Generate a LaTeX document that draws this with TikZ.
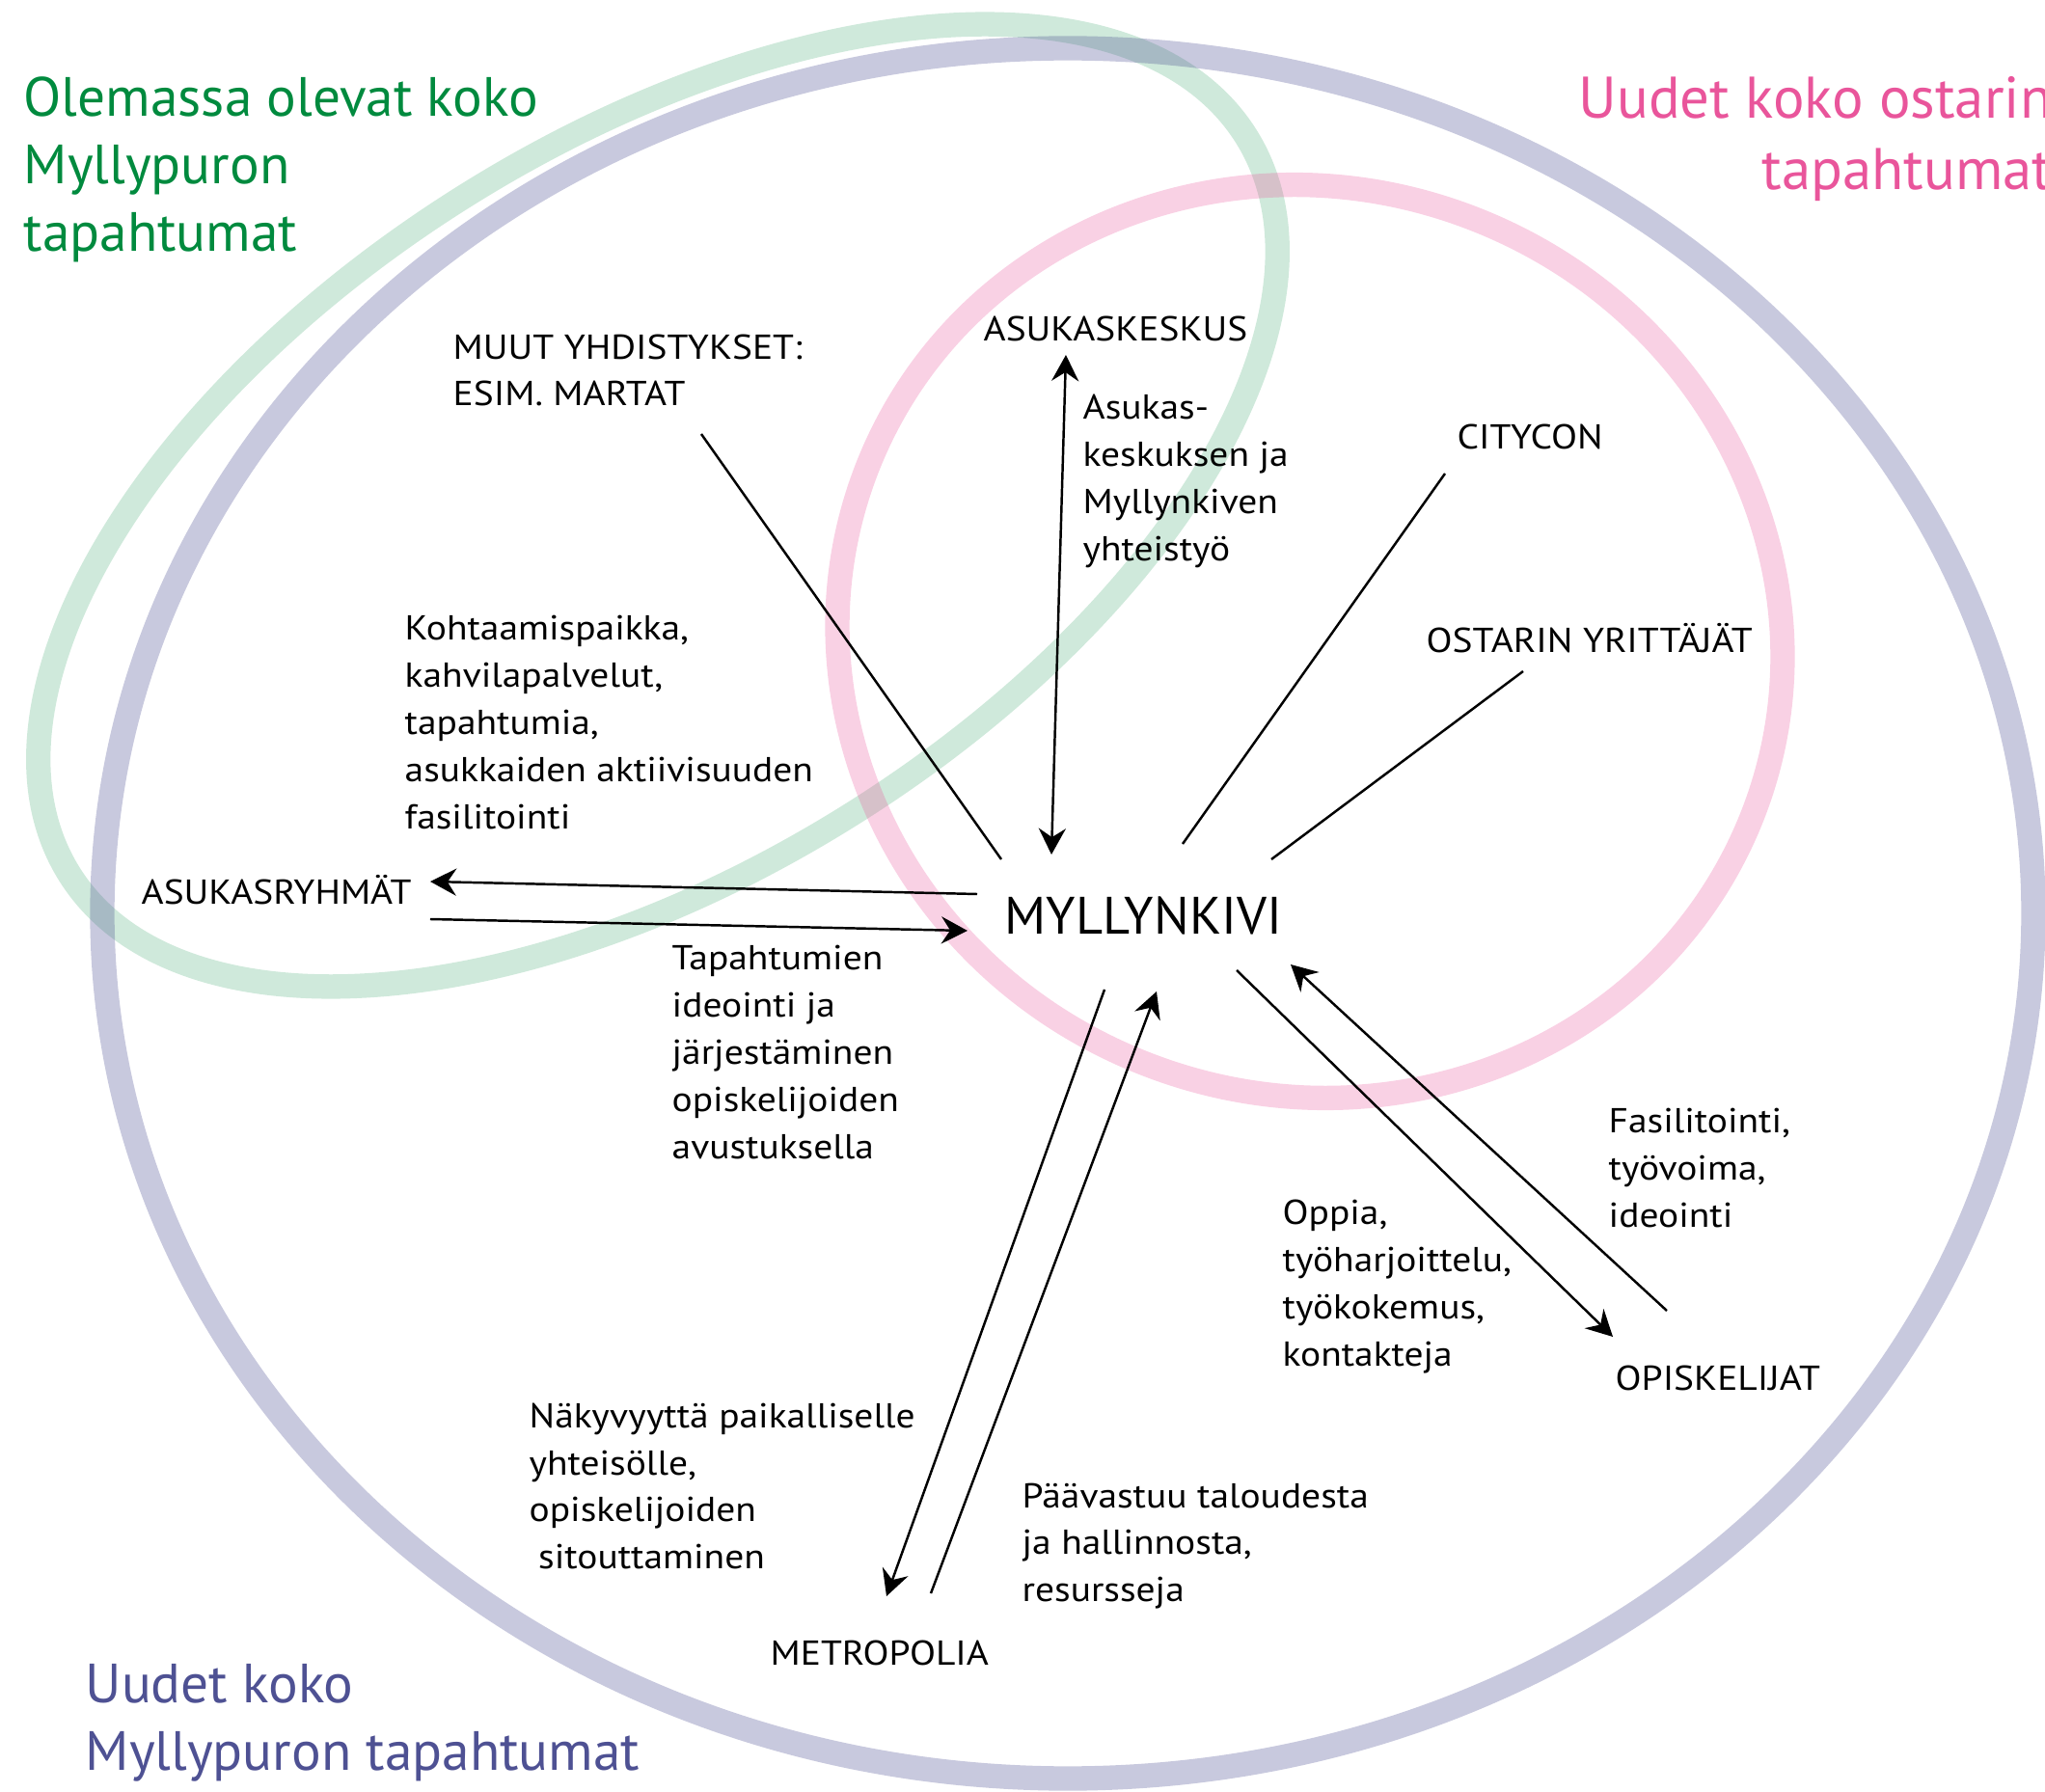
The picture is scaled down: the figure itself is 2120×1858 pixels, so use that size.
\documentclass[tikz,border=0pt]{standalone}
\usepackage{fontspec}
\setmainfont{PT Sans}
\newfontfamily\tagfont{PT Sans}[FakeStretch=1.1]
\usetikzlibrary{arrows.meta}

\definecolor{greentitle}{RGB}{0,138,62}
\definecolor{pinktitle}{RGB}{233,85,155}
\definecolor{bluetitle}{RGB}{78,81,147}

\begin{document}
\begin{tikzpicture}[x=0.01cm, y=-0.01cm,
  >={Stealth[length=7.7pt, width=8pt, inset=2.6pt]},
  ring/.style={line width=7.2pt},
  tag/.style={anchor=west, inner sep=0pt, font=\tagfont\fontsize{10.2}{13.9}\selectfont},
  desc/.style={tag, align=left},
  headline/.style={inner sep=0pt, font=\fontsize{16.3}{19.9}\selectfont},
  conn/.style={line width=0.7pt}]
\useasboundingbox (0,0) rectangle (2120,1858);

% the three event areas
\draw [ring, draw=greentitle, draw opacity=0.19, rotate around={32.1:(682,524)}] (682,524) ellipse [x radius=720, y radius=378];
\draw [ring, draw=bluetitle, draw opacity=0.31] (1107,947) ellipse [x radius=1001, y radius=897];
\draw [ring, draw=pinktitle, draw opacity=0.27, rotate around={-22:(1358,665)}] (1358,665) ellipse [x radius=493, y radius=470];

\node [headline, anchor=west, align=left, text=greentitle] (olemassa) at (24,176) {Olemassa olevat koko\\Myllypuron\\tapahtumat};
\node [headline, anchor=east, align=right, text=pinktitle, font=\fontsize{17.3}{21}\selectfont] (ostari) at (2128,144) {Uudet koko ostarin\\tapahtumat};
\node [headline, anchor=west, align=left, text=bluetitle] (uudet) at (88,1786) {Uudet koko\\Myllypuron tapahtumat};

% actors
\node [tag, font=\fontsize{15.5}{18}\selectfont] (myl) at (1041,949) {MYLLYNKIVI};
\node [desc] (muut) at (469,384) {MUUT YHDISTYKSET:\\ESIM. MARTAT};
\node [tag] (keskus) at (1019,341) {ASUKASKESKUS};
\node [tag] (citycon) at (1510,453) {CITYCON};
\node [tag] (yrittajat) at (1478,662) {OSTARIN YRITTÄJÄT};
\node [tag] (ryhmat) at (146,923) {ASUKASRYHMÄT};
\node [tag] (opisk) at (1674,1429) {OPISKELIJAT};
\node [tag] (metro) at (798,1714) {METROPOLIA};

% what goes along the arrows
\node [desc] (tKeskus) at (1122,499) {Asukas-\\keskuksen ja\\Myllynkiven\\yhteistyö};
\node [desc] (tRyhmat1) at (419,749) {Kohtaamispaikka,\\kahvilapalvelut,\\tapahtumia,\\asukkaiden aktiivisuuden\\fasilitointi};
\node [desc] (tRyhmat2) at (696,1091) {Tapahtumien\\ideointi ja\\järjestäminen\\opiskelijoiden\\avustuksella};
\node [desc] (tOpisk1) at (1667,1211) {Fasilitointi,\\työvoima,\\ideointi};
\node [desc] (tOpisk2) at (1329,1334) {Oppia,\\työharjoittelu,\\työkokemus,\\kontakteja};
\node [desc] (tMetro1) at (548,1541) {Näkyvyyttä paikalliselle\\yhteisölle,\\opiskelijoiden\\\hspace*{2.7pt}sitouttaminen};
\node [desc] (tMetro2) at (1059,1603) {Päävastuu taloudesta\\ja hallinnosta,\\resursseja};

% connector ends
\coordinate (muut-a) at (727,450);
\coordinate (muut-b) at (1038,891);
\coordinate (kesk-a) at (1105,368);
\coordinate (kesk-b) at (1090,886);
\coordinate (city-a) at (1498,491);
\coordinate (city-b) at (1226,875);
\coordinate (yrit-a) at (1579,696);
\coordinate (yrit-b) at (1318,891);
\coordinate (ryh1-a) at (1013,927);
\coordinate (ryh1-b) at (446,914);
\coordinate (ryh2-a) at (446,953);
\coordinate (ryh2-b) at (1003,965);
\coordinate (met1-a) at (1145,1026);
\coordinate (met1-b) at (919,1655);
\coordinate (met2-a) at (965,1652);
\coordinate (met2-b) at (1199,1028);
\coordinate (opi1-a) at (1282,1006);
\coordinate (opi1-b) at (1672,1386);
\coordinate (opi2-a) at (1728,1359);
\coordinate (opi2-b) at (1338,1000);

\draw [conn] (muut-a) -- (muut-b);
\draw [conn, <->] (kesk-a) -- (kesk-b);
\draw [conn] (city-a) -- (city-b);
\draw [conn] (yrit-a) -- (yrit-b);
\draw [conn, ->] (ryh1-a) -- (ryh1-b);
\draw [conn, ->] (ryh2-a) -- (ryh2-b);
\draw [conn, ->] (met1-a) -- (met1-b);
\draw [conn, ->] (met2-a) -- (met2-b);
\draw [conn, ->] (opi1-a) -- (opi1-b);
\draw [conn, ->] (opi2-a) -- (opi2-b);
\end{tikzpicture}
\end{document}
